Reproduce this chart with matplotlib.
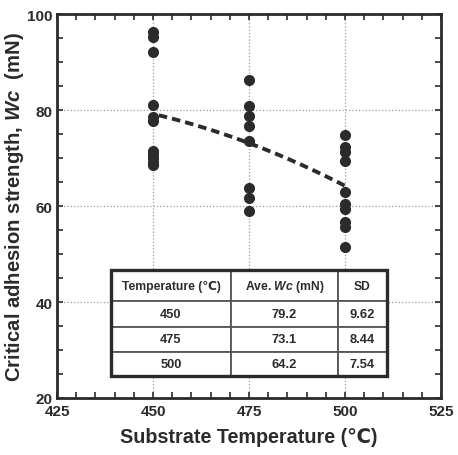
import numpy as np
import matplotlib
matplotlib.use("Agg")
import matplotlib.pyplot as plt
import matplotlib.patches as patches
from matplotlib.ticker import MultipleLocator

plt.rcParams['font.family'] = ['Liberation Sans', 'DejaVu Sans']
plt.rcParams['font.weight'] = 'bold'
plt.rcParams['axes.labelweight'] = 'bold'
plt.rcParams['mathtext.fontset'] = 'custom'
plt.rcParams['mathtext.it'] = 'Liberation Sans:italic:bold'
plt.rcParams['mathtext.rm'] = 'Liberation Sans:bold'

# data
w450 = [96.2, 95.2, 92.1, 81.1, 78.5, 77.8, 71.5, 70.8, 70.0, 69.2, 68.6]
w475 = [86.3, 80.9, 78.8, 76.7, 73.5, 63.7, 61.6, 59.0]
w500 = [74.9, 72.4, 71.2, 69.4, 63.0, 60.4, 59.4, 56.7, 55.6, 51.5]
temps = [450, 475, 500]
ave_wc = [79.2, 73.1, 64.2]
sd = [9.62, 8.44, 7.54]

dark = '#2b2b2b'

fig = plt.figure(figsize=(4.58, 4.56), dpi=100)
ax = fig.add_axes([0.1245, 0.125, 0.8385, 0.842])

for t, vals in zip(temps, [w450, w475, w500]):
    ax.plot([t]*len(vals), vals, 'o', color=dark, markersize=7, zorder=4)

# dashed trend through the means
c = np.polyfit(temps, ave_wc, 2)
xx = np.linspace(451.5, 500, 50)
ax.plot(xx, np.polyval(c, xx), '--', color=dark, lw=2.8, dashes=(2.2, 1.3), zorder=3)

ax.set_xlim(425, 525)
ax.set_ylim(20, 100)
ax.xaxis.set_major_locator(MultipleLocator(25))
ax.xaxis.set_minor_locator(MultipleLocator(5))
ax.yaxis.set_major_locator(MultipleLocator(20))
ax.yaxis.set_minor_locator(MultipleLocator(5))
ax.tick_params(which='both', direction='in', top=True, right=True, length=4,
               width=1.2, color=dark, labelsize=11, labelcolor=dark, pad=3)
ax.tick_params(axis='x', pad=4.5)
for lab in ax.get_xticklabels() + ax.get_yticklabels():
    lab.set_fontweight('bold')
for s in ax.spines.values():
    s.set_linewidth(2)
    s.set_color(dark)
ax.grid(True, which='major', ls=':', color='#999999', lw=0.9, zorder=0)
ax.set_axisbelow(True)

ax.set_xlabel('Substrate Temperature (℃)', fontsize=14.2, color=dark,
              fontweight='bold', labelpad=6)
ax.set_ylabel('Critical adhesion strength, $Wc$  (mN)', fontsize=14.6, color=dark,
              fontweight='bold', labelpad=1)

# summary table
cells = [[str(t), f'{a:.1f}', f'{s:.2f}'] for t, a, s in zip(temps, ave_wc, sd)]
x0, x1, y0, y1 = 0.1406, 0.8586, 0.0573, 0.3333
tab = ax.table(cellText=cells, colLabels=['Temperature (℃)', 'Ave. $Wc$ (mN)', 'SD'],
               cellLoc='center', bbox=[x0, y0, x1 - x0, y1 - y0], zorder=5)
tab.auto_set_font_size(False)
colw = [120, 107, 49]
rowh = [31, 26, 24.4, 24.3]
for (r, cidx), cell in tab.get_celld().items():
    cell.set_width(colw[cidx])
    cell.set_height(rowh[r])
    cell.set_edgecolor('#555555')
    cell.set_linewidth(1.3)
    cell.set_facecolor('white')
    cell.get_text().set_fontsize(8.7 if r == 0 else 9.3)
    cell.get_text().set_color(dark)
    cell.get_text().set_fontweight('bold')
ax.add_patch(patches.Rectangle((x0, y0), x1 - x0, y1 - y0, transform=ax.transAxes,
                               fill=False, lw=2.4, ec=dark, zorder=6))

fig.savefig('out.png', dpi=100)
